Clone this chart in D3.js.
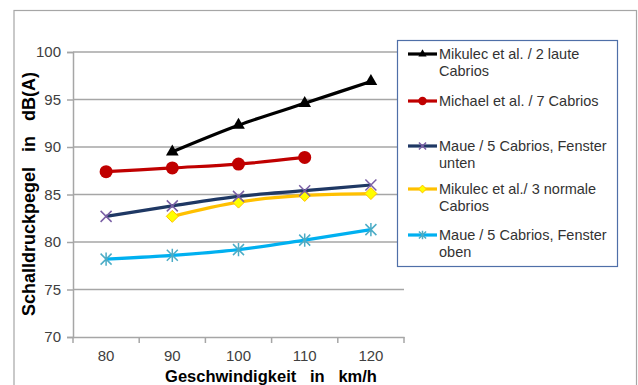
<!DOCTYPE html>
<html><head><meta charset="utf-8">
<script src="https://cdn.jsdelivr.net/npm/d3@7"></script>
<style>body{margin:0;background:#fff}svg{display:block}text{font-family:"Liberation Sans",Arial,sans-serif}</style>
</head><body><svg id="c" width="638" height="385"></svg>
<script>
const categories = ["80","90","100","110","120"];
const yTicks = [70,75,80,85,90,95,100];
const seriesNames = ["Mikulec et al. / 2 laute|Cabrios","Michael et al. / 7 Cabrios","Maue / 5 Cabrios, Fenster|unten","Mikulec et al./ 3 normale|Cabrios","Maue / 5 Cabrios, Fenster|oben"];
const mikulecLaut = [null,89.5,92.3,94.6,96.9];
const michael = [87.4,87.8,88.2,88.9,null];
const maueUnten = [82.7,83.8,84.8,85.4,86.0];
const mikulecNormal = [null,82.7,84.2,84.9,85.1];
const maueOben = [78.2,78.6,79.2,80.2,81.3];

const styles = [
 {line:"#000000", marker:"triangle", fill:"#000", stroke:"#000"},
 {line:"#c00000", marker:"circle", fill:"#c00000", stroke:"#c00000"},
 {line:"#1f3864", marker:"x", fill:"none", stroke:"#7a5fa5"},
 {line:"#ffc000", marker:"diamond", fill:"#ffff00", stroke:"#ffc000"},
 {line:"#00b0f0", marker:"star", fill:"none", stroke:"#4bacc6"}
];
const allSeries = [mikulecLaut, michael, maueUnten, mikulecNormal, maueOben];

const svg = d3.select("#c");
svg.append("rect").attr("x",14).attr("y",10.5).attr("width",622.5).attr("height",400).attr("fill","#fff").attr("stroke","#a6a6a6").attr("stroke-width",1.2);

const x = d3.scaleBand().domain(categories).range([73,404]);
const y = d3.scaleLinear().domain([70,100]).range([337,52]);

svg.append("g").selectAll("line").data(yTicks.slice(1)).join("line")
 .attr("x1",73).attr("x2",404).attr("y1",d=>y(d)).attr("y2",d=>y(d))
 .attr("stroke","#a6a6a6").attr("stroke-width",1.5);

const yAxis = svg.append("g").attr("transform","translate(73,0)")
 .call(d3.axisLeft(y).tickValues(yTicks).tickSize(6).tickPadding(6));
yAxis.select(".domain").attr("stroke","#a6a6a6").attr("stroke-width",1.5);
yAxis.selectAll(".tick line").attr("stroke","#a6a6a6").attr("stroke-width",1.5);
yAxis.selectAll("text").attr("font-size",15).attr("fill","#404040").attr("font-family","Liberation Sans, Arial, sans-serif");

const xAxis = svg.append("g").attr("transform","translate(0,337)")
 .call(d3.axisBottom(x).tickSize(0).tickPadding(13));
xAxis.select(".domain").attr("stroke","#a6a6a6").attr("stroke-width",1.5);
xAxis.selectAll("text").attr("font-size",15).attr("fill","#404040").attr("font-family","Liberation Sans, Arial, sans-serif");
const bounds = categories.map(c=>x(c)).concat([x(categories[categories.length-1])+x.bandwidth()]);
svg.append("g").selectAll("line").data(bounds).join("line")
 .attr("x1",d=>d).attr("x2",d=>d).attr("y1",337).attr("y2",343)
 .attr("stroke","#a6a6a6").attr("stroke-width",1.5);

svg.append("text").attr("transform","translate(35,194) rotate(-90)").attr("text-anchor","middle")
 .attr("font-size",18).attr("font-weight","bold").attr("fill","#000").style("white-space","pre")
 .text("Schalldruckpegel   in   dB(A)");
svg.append("text").attr("x",271).attr("y",381.5).attr("text-anchor","middle")
 .attr("font-size",16.5).attr("font-weight","bold").attr("fill","#000").style("white-space","pre")
 .text("Geschwindigkeit   in   km/h");

function drawMarker(g, type, cx, cy, st, s) {
 s = s || 1;
 if (type==="triangle") {
  g.append("path").attr("d",d3.symbol(d3.symbolTriangle, 70*s*s)()).attr("transform",`translate(${cx},${cy})`).attr("fill",st.fill);
 } else if (type==="circle") {
  g.append("circle").attr("cx",cx).attr("cy",cy).attr("r",6.5*s).attr("fill",st.fill);
 } else if (type==="diamond") {
  const r=6*s;
  g.append("path").attr("d",`M${cx},${cy-r}L${cx+r},${cy}L${cx},${cy+r}L${cx-r},${cy}Z`).attr("fill",st.fill).attr("stroke",st.stroke).attr("stroke-width",1);
 } else if (type==="x") {
  const r=5.5*s;
  g.append("path").attr("d",`M${cx-r},${cy-r}L${cx+r},${cy+r}M${cx-r},${cy+r}L${cx+r},${cy-r}`).attr("stroke",st.stroke).attr("stroke-width",1.5);
 } else if (type==="star") {
  const r=5.5*s;
  g.append("path").attr("d",`M${cx-r},${cy-r}L${cx+r},${cy+r}M${cx-r},${cy+r}L${cx+r},${cy-r}M${cx},${cy-r*1.2}L${cx},${cy+r*1.2}`).attr("stroke",st.stroke).attr("stroke-width",1.5);
 }
}

const line = d3.line().defined(d=>d.v!==null).x(d=>x(d.c)+x.bandwidth()/2).y(d=>y(d.v)).curve(d3.curveMonotoneX);
for (let i=allSeries.length-1;i>=0;i--) {
 const data = categories.map((c,j)=>({c, v:allSeries[i][j]}));
 const g = svg.append("g");
 g.append("path").datum(data).attr("d",line).attr("fill","none").attr("stroke",styles[i].line).attr("stroke-width",3.2).attr("stroke-linejoin","round");
 data.filter(d=>d.v!==null).forEach(d=>drawMarker(g, styles[i].marker, x(d.c)+x.bandwidth()/2, y(d.v), styles[i]));
}

const lg = svg.append("g");
lg.append("rect").attr("x",397.5).attr("y",40.5).attr("width",220).attr("height",226).attr("fill","#fff").attr("stroke","#4f6fa8").attr("stroke-width",1.2);
const legY = [54,101,146,189,235];
seriesNames.forEach((n,i)=>{
 const yy = legY[i];
 lg.append("line").attr("x1",408).attr("x2",437).attr("y1",yy).attr("y2",yy).attr("stroke",styles[i].line).attr("stroke-width",3.2);
 drawMarker(lg, styles[i].marker, 422.5, yy, styles[i], 0.65);
 const parts = n.split("|");
 const t = lg.append("text").attr("x",439).attr("y",yy+5).attr("font-size",14.5).attr("fill","#333");
 parts.forEach((p,k)=>t.append("tspan").attr("x",439).attr("dy",k===0?0:17).text(p));
});
</script></body></html>
